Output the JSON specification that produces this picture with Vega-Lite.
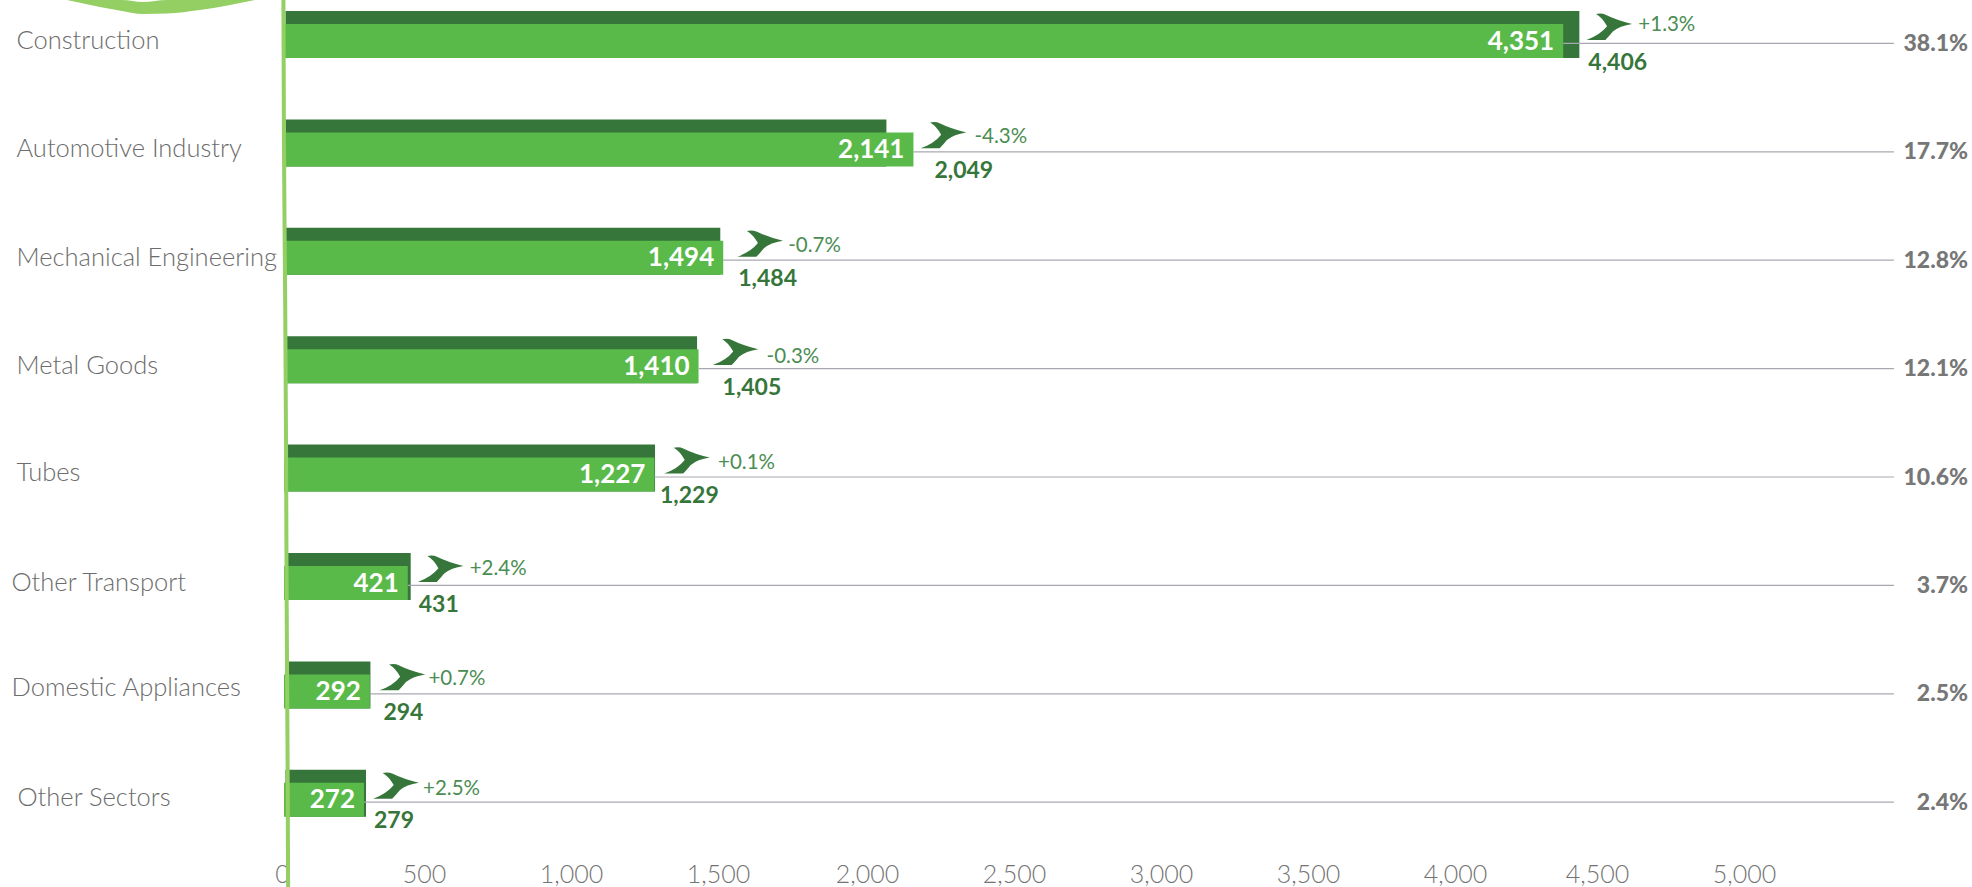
{
"$schema":"https://vega.github.io/schema/vega-lite/v6.json",
"autosize":{"type":"none"},
"padding":{"left":284,"top":0,"right":0,"bottom":30},
"width":1688,"height":857,
"background":"white",
"config":{"view":{"stroke":null},"font":"Lato"},
"datasets":{
"rows":[
{"sector":"Construction","light":4351,"dark":4406,"lightBar":4351,"darkBar":4406,"top":4406,"change":"+1.3%","share":"38.1%"},
{"sector":"Automotive Industry","light":2141,"dark":2049,"lightBar":2141,"darkBar":2049,"top":2141,"change":"-4.3%","share":"17.7%"},
{"sector":"Mechanical Engineering","light":1494,"dark":1484,"lightBar":1494,"darkBar":1484,"top":1494,"change":"-0.7%","share":"12.8%"},
{"sector":"Metal Goods","light":1410,"dark":1405,"lightBar":1410,"darkBar":1405,"top":1410,"change":"-0.3%","share":"12.1%"},
{"sector":"Tubes","light":1227,"dark":1229,"lightBar":1260,"darkBar":1262,"top":1262,"change":"+0.1%","share":"10.6%"},
{"sector":"Other Transport","light":421,"dark":431,"lightBar":421,"darkBar":431,"top":431,"change":"+2.4%","share":"3.7%"},
{"sector":"Domestic Appliances","light":292,"dark":294,"lightBar":292,"darkBar":294,"top":294,"change":"+0.7%","share":"2.5%"},
{"sector":"Other Sectors","light":272,"dark":279,"lightBar":272,"darkBar":279,"top":279,"change":"+2.5%","share":"2.4%"}
],
"stem":[{"a":-2,"b":0},{"a":0,"b":150},{"a":4,"b":300},{"a":7,"b":450},{"a":9,"b":600},{"a":12,"b":750},{"a":14,"b":887}],
"arc":[{"a":-738,"b":0,"c":0},{"a":-626,"b":0,"c":7},{"a":-551,"b":0,"c":11},{"a":-480,"b":2,"c":14},{"a":-398,"b":0,"c":13.5},{"a":-286,"b":0,"c":10},{"a":-99,"b":0,"c":0}]
},
"resolve":{"scale":{"y":"independent"}},
"layer":[
{
"data":{"name":"rows"},
"encoding":{
"y":{"field":"sector","type":"nominal","sort":null,"title":null,
"scale":{"domain":["Construction","Automotive Industry","Mechanical Engineering","Metal Goods","Tubes","Other Transport","Domestic Appliances","Other Sectors"],"range":[-13.2,854],"paddingInner":0,"paddingOuter":0},
"axis":{"orient":"left","ticks":false,"domain":false,"labelAlign":"left","labelFontWeight":300,"labelFont":"Lato","labelFontSize":25.5,"labelColor":"#6c6c6c","labelLimit":300,
"labelOffset":{"expr":"datum.value=='Domestic Appliances'?-3:datum.value=='Tubes'||datum.value=='Other Sectors'?-2:0"},
"labelPadding":{"expr":"datum.value=='Other Transport'||datum.value=='Domestic Appliances'?273:datum.value=='Other Sectors'?267:268"}}}
},
"layer":[
{"mark":{"type":"bar","color":"#37763a","size":47,"yOffset":-6.5},
 "encoding":{"x":{"field":"darkBar","type":"quantitative","title":null,
  "scale":{"domain":[0,5741.5],"nice":false,"zero":false},
  "axis":{"orient":"bottom","values":[0,500,1000,1500,2000,2500,3000,3500,4000,4500,5000],"labelExpr":"format(datum.value,',')","grid":false,"ticks":false,"domain":false,"labelFontWeight":300,"labelFont":"Lato","labelFontSize":25,"labelColor":"#737373","labelPadding":5,"labelFlush":false,
  "labelOffset":{"expr":"datum.value==0?-2:datum.value<=1500?-7:datum.value<=4000?-5:-10"}}},
  "x2":{"datum":5}}},
{"mark":{"type":"bar","color":"#59ba4a","size":34},
 "encoding":{"x":{"field":"lightBar","type":"quantitative"}}},
{"mark":{"type":"rule","color":"#a8a8b2","strokeWidth":1.2,"yOffset":2.4},
 "encoding":{"x":{"field":"lightBar","type":"quantitative"},"x2":{"datum":5476}}},
{"mark":{"type":"text","color":"#ffffff","align":"right","baseline":"middle","font":"Lato","fontWeight":700,"fontSize":26,"dx":-9,"dy":0.5},
 "encoding":{"x":{"field":"lightBar","type":"quantitative"},"text":{"field":"light","type":"quantitative","format":","}}},
{"mark":{"type":"point","shape":"M-0.58 -0.56 Q-0.35 -0.62 -0.14 -0.52 Q0.3 -0.3 0.99 -0.13 Q0.45 -0.05 0.15 0.2 Q-0.05 0.45 -0.17 0.56 L-0.99 0.56 Q-0.4 0.35 -0.1 -0.03 Q-0.3 -0.4 -0.58 -0.56 Z","filled":true,"color":"#37763a","opacity":1,"size":2116,
 "xOffset":{"expr":"indexof(['Mechanical Engineering','Metal Goods'],datum.sector)>=0?37:datum.sector=='Domestic Appliances'||datum.sector=='Tubes'?32:30"},"yOffset":-14},
 "encoding":{"x":{"field":"top","type":"quantitative"}}},
{"mark":{"type":"text","color":"#4b8d52","align":"left","baseline":"middle","font":"Lato","fontWeight":400,"fontSize":20.5,
 "dx":{"expr":"{'Construction':59,'Automotive Industry':61,'Mechanical Engineering':65,'Metal Goods':68,'Tubes':63,'Other Transport':59,'Domestic Appliances':58,'Other Sectors':57}[datum.sector]"},
 "dy":{"expr":"{'Construction':-15.7,'Automotive Industry':-12.7,'Mechanical Engineering':-11.4,'Metal Goods':-9.5,'Tubes':-11.8,'Other Transport':-14,'Domestic Appliances':-12.5,'Other Sectors':-10.5}[datum.sector]"}},
 "encoding":{"x":{"field":"top","type":"quantitative"},"text":{"field":"change","type":"nominal"}}},
{"mark":{"type":"text","color":"#37763a","align":"left","baseline":"middle","font":"Lato","fontWeight":700,"fontSize":23,
 "dx":{"expr":"{'Construction':9,'Automotive Industry':21,'Mechanical Engineering':15,'Metal Goods':24,'Tubes':5,'Other Transport':8,'Domestic Appliances':13,'Other Sectors':8}[datum.sector]"},"dy":21.5},
 "encoding":{"x":{"field":"top","type":"quantitative"},"text":{"field":"dark","type":"quantitative","format":","}}},
{"mark":{"type":"text","color":"#777777","align":"right","baseline":"middle","font":"Lato","fontWeight":900,"fontSize":23,"dy":3},
 "encoding":{"x":{"datum":5728},"text":{"field":"share","type":"nominal"}}}
]
},
{
"layer":[
{"data":{"name":"arc"},"mark":{"type":"area","color":"#93cf63","interpolate":"monotone","clip":false},
 "encoding":{"x":{"field":"a","type":"quantitative"},
 "y":{"field":"b","type":"quantitative","scale":{"domain":[0,857],"range":[0,857],"nice":false},"axis":null},
 "y2":{"field":"c"}}},
{"data":{"name":"stem"},"mark":{"type":"line","color":"#93cf63","strokeWidth":4,"interpolate":"monotone","clip":false},
 "encoding":{"x":{"field":"a","type":"quantitative"},
 "y":{"field":"b","type":"quantitative","axis":null},"order":{"field":"b"}}}
]
}
]
}
